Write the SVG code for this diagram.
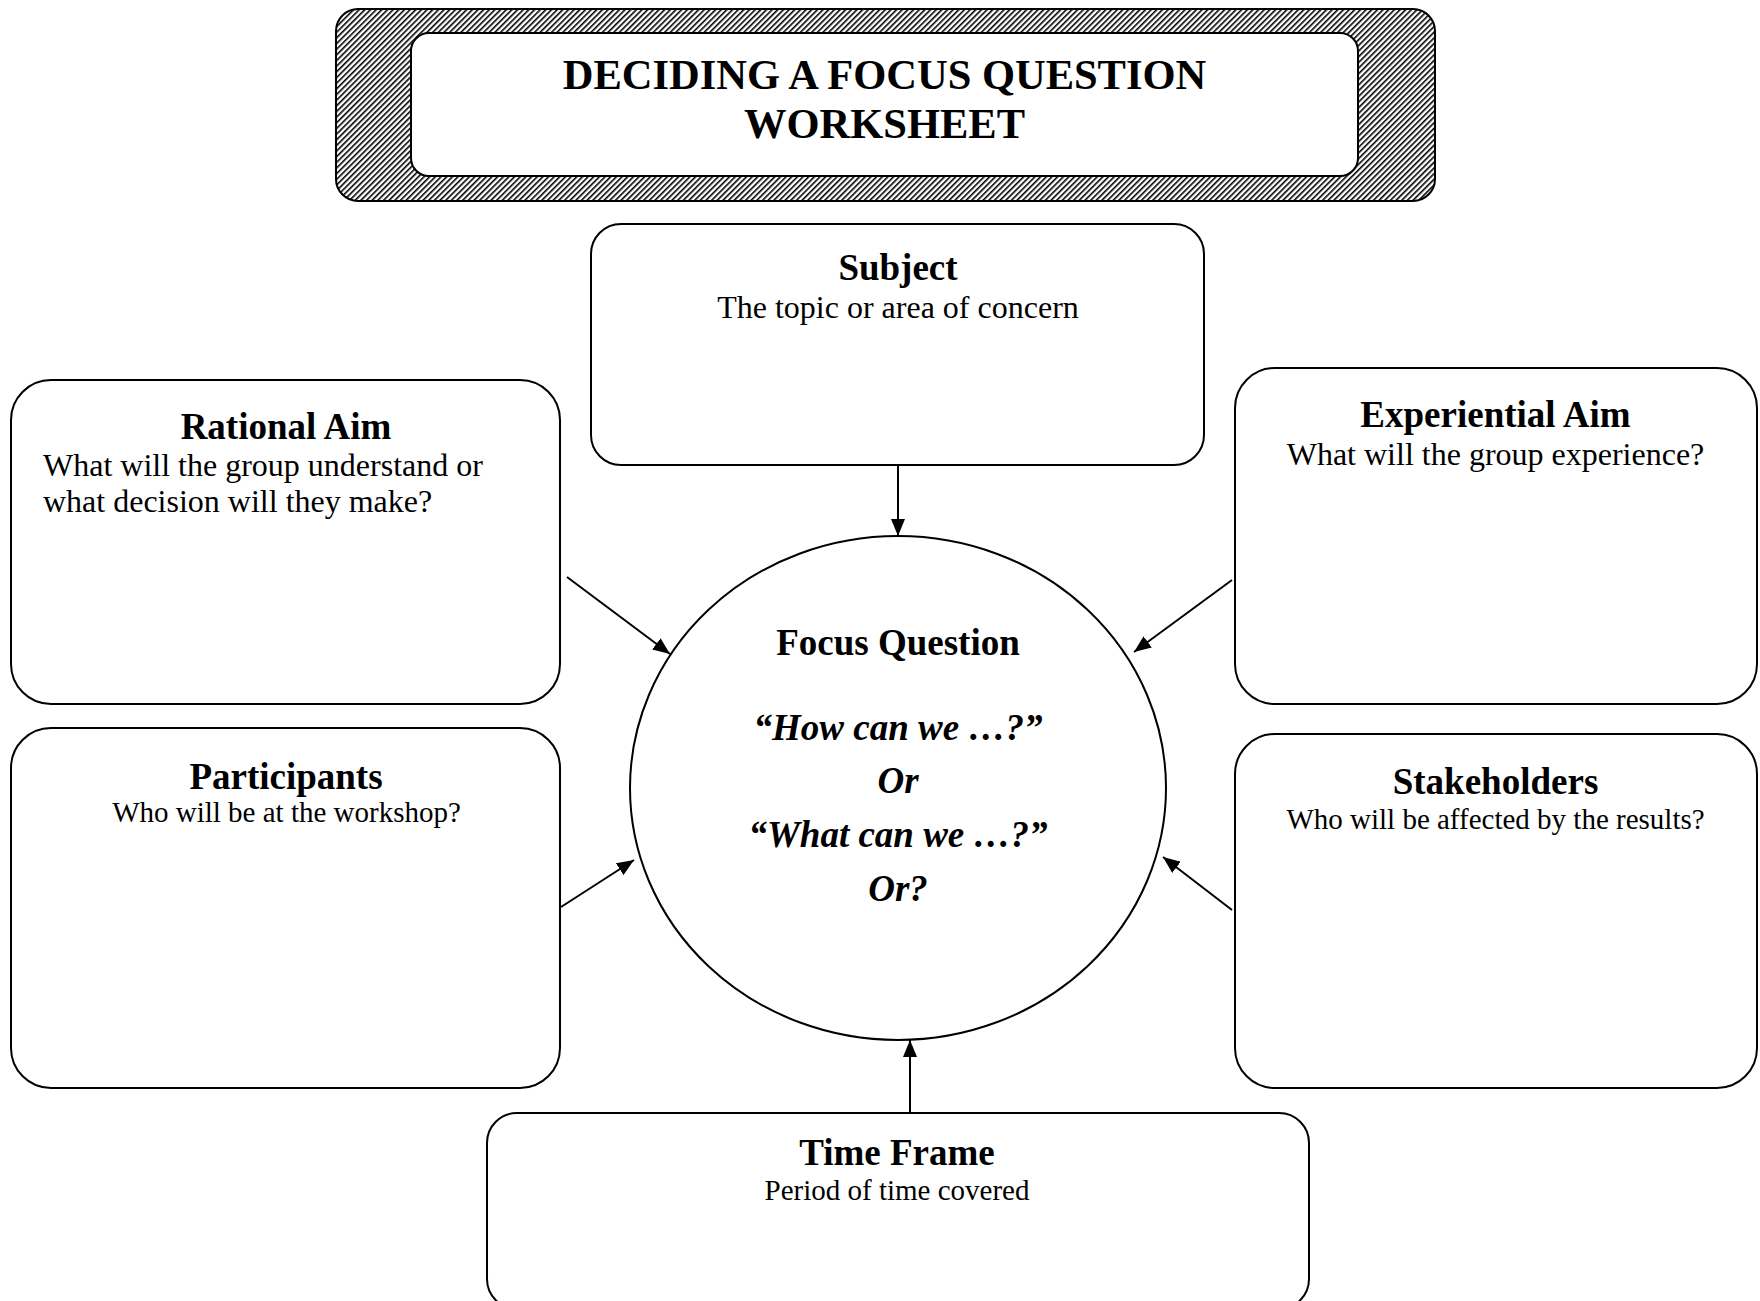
<svg xmlns="http://www.w3.org/2000/svg" width="1760" height="1301" viewBox="0 0 1760 1301">
<style>
.box{fill:#fff;stroke:#000;stroke-width:2}
.t{font-family:"Liberation Serif","Times New Roman",serif;fill:#000}
.h{font-weight:bold;font-size:37px;text-anchor:middle}
.s{font-size:32px}
.s2{font-size:29px;text-anchor:middle}
.q{font-weight:bold;font-style:italic;font-size:37px;text-anchor:middle}
.c{stroke:#000;stroke-width:2;fill:none;marker-end:url(#ah)}
</style>
<defs>
<pattern id="hatch" patternUnits="userSpaceOnUse" width="4" height="4" patternTransform="rotate(45)">
<rect width="4" height="4" fill="#fff"/>
<rect width="1.6" height="4" fill="#000"/>
</pattern>
<marker id="ah" markerUnits="userSpaceOnUse" markerWidth="17" markerHeight="14" refX="17" refY="7" orient="auto">
<path d="M0,0 L17,7 L0,14 z" fill="#000"/>
</marker>
</defs>
<g id="title">
<rect x="336" y="9" width="1099" height="192" rx="22" fill="url(#hatch)" stroke="#000" stroke-width="2"/>
<rect class="box" x="411" y="33" width="947" height="143" rx="18"/>
<text class="t" x="884.5" y="89" font-size="42.5" font-weight="bold" text-anchor="middle">DECIDING A FOCUS QUESTION</text>
<text class="t" x="884.5" y="138" font-size="42.5" font-weight="bold" text-anchor="middle">WORKSHEET</text>
</g>
<g id="connectors">
<line class="c" x1="898" y1="465" x2="898" y2="536"/>
<line class="c" x1="567" y1="577" x2="670" y2="654"/>
<line class="c" x1="1232" y1="580" x2="1134" y2="652"/>
<line class="c" x1="561" y1="907" x2="634" y2="860"/>
<line class="c" x1="1232" y1="910" x2="1163" y2="857"/>
<line class="c" x1="910" y1="1113" x2="910" y2="1040"/>
</g>
<g id="subject">
<rect class="box" x="591" y="224" width="613" height="241" rx="30"/>
<text class="t h" x="898" y="279.5">Subject</text>
<text class="t s" x="898" y="317.5" text-anchor="middle">The topic or area of concern</text>
</g>
<g id="rational-aim">
<rect class="box" x="11" y="380" width="549" height="324" rx="40"/>
<text class="t h" x="286" y="438.5">Rational Aim</text>
<text class="t s" x="43" y="475.5">What will the group understand or</text>
<text class="t s" x="43" y="511.5">what decision will they make?</text>
</g>
<g id="experiential-aim">
<rect class="box" x="1235" y="368" width="522" height="336" rx="40"/>
<text class="t h" x="1495.5" y="426.5">Experiential Aim</text>
<text class="t s" x="1495.5" y="464.5" text-anchor="middle">What will the group experience?</text>
</g>
<g id="participants">
<rect class="box" x="11" y="728" width="549" height="360" rx="40"/>
<text class="t h" x="286" y="788.5">Participants</text>
<text class="t s2" x="286.5" y="821.5">Who will be at the workshop?</text>
</g>
<g id="stakeholders">
<rect class="box" x="1235" y="734" width="522" height="354" rx="40"/>
<text class="t h" x="1495.5" y="793.5">Stakeholders</text>
<text class="t s2" x="1495.5" y="828.5">Who will be affected by the results?</text>
</g>
<g id="time-frame">
<rect class="box" x="487" y="1113" width="822" height="196" rx="30"/>
<text class="t h" x="897" y="1164.5">Time Frame</text>
<text class="t s2" x="897" y="1199.5">Period of time covered</text>
</g>
<g id="focus-question">
<ellipse class="box" cx="898" cy="788" rx="268" ry="252"/>
<text class="t h" x="898" y="654.5">Focus Question</text>
<text class="t q" x="898" y="739.5">“How can we …?”</text>
<text class="t q" x="898" y="792.5">Or</text>
<text class="t q" x="898" y="846.5">“What can we …?”</text>
<text class="t q" x="898" y="900.5">Or?</text>
</g>
</svg>
